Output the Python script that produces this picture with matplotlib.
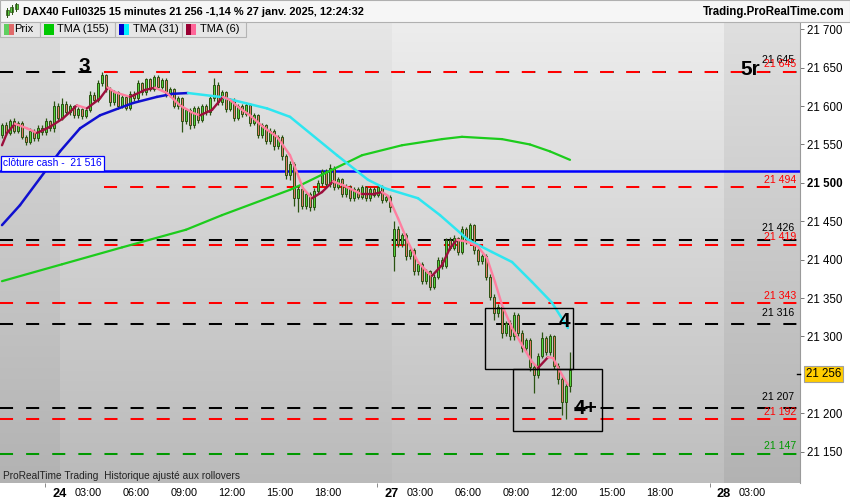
import numpy as np
import matplotlib
matplotlib.use('Agg')
import matplotlib.pyplot as plt
from matplotlib.collections import LineCollection
from matplotlib.patches import Rectangle

# ---------------- data (15 min bars, 23 janv 18:15 -> 27 janv 12:15) ----------------
opens = [21562, 21575, 21565, 21580, 21568, 21578, 21560, 21553, 21568, 21558,
         21572, 21566, 21580, 21572, 21600, 21585, 21603, 21592, 21600, 21588,
         21596, 21587, 21595, 21615, 21608, 21630, 21640, 21622, 21605, 21618,
         21600, 21612, 21598, 21616, 21610, 21630, 21618, 21635, 21622, 21638,
         21625, 21634, 21615, 21622, 21600, 21610, 21580, 21595, 21575, 21598,
         21582, 21600, 21592, 21610, 21628, 21605, 21618, 21596, 21608, 21585,
         21600, 21590, 21602, 21578, 21588, 21562, 21575, 21555, 21568, 21548,
         21560, 21535, 21510, 21525, 21480, 21492, 21470, 21485, 21468, 21490,
         21500, 21515, 21498, 21520, 21495, 21505, 21485, 21495, 21480, 21492,
         21482, 21494, 21480, 21492, 21484, 21495, 21478, 21482, 21405, 21440,
         21420, 21432, 21405, 21412, 21385, 21395, 21372, 21385, 21365, 21378,
         21400, 21392, 21425, 21415, 21428, 21410, 21440, 21425, 21445, 21412,
         21398, 21405, 21378, 21352, 21330, 21338, 21305, 21318, 21300, 21328,
         21305, 21285, 21295, 21260, 21250, 21275, 21298, 21280, 21300, 21262,
         21245, 21215, 21235]
closes = [21575, 21565, 21580, 21568, 21578, 21560, 21553, 21568, 21558, 21572,
          21566, 21580, 21572, 21600, 21585, 21603, 21592, 21600, 21588, 21596,
          21587, 21595, 21615, 21608, 21630, 21640, 21622, 21605, 21618, 21600,
          21612, 21598, 21616, 21610, 21630, 21618, 21635, 21622, 21638, 21625,
          21634, 21615, 21622, 21600, 21610, 21580, 21595, 21575, 21598, 21582,
          21600, 21592, 21610, 21628, 21605, 21618, 21596, 21608, 21585, 21600,
          21590, 21602, 21578, 21588, 21562, 21575, 21555, 21568, 21548, 21560,
          21535, 21510, 21525, 21480, 21492, 21470, 21485, 21468, 21490, 21500,
          21515, 21498, 21520, 21495, 21505, 21485, 21495, 21480, 21492, 21482,
          21494, 21480, 21492, 21484, 21495, 21478, 21482, 21468, 21440, 21420,
          21432, 21405, 21412, 21385, 21395, 21372, 21385, 21365, 21378, 21400,
          21392, 21425, 21415, 21428, 21410, 21440, 21425, 21445, 21412, 21398,
          21405, 21378, 21352, 21330, 21338, 21305, 21318, 21300, 21328, 21305,
          21285, 21295, 21260, 21250, 21275, 21298, 21280, 21300, 21262, 21245,
          21215, 21235, 21256]
highs = [21578, 21579, 21583, 21584, 21581, 21580, 21563, 21571, 21570, 21575,
         21575, 21584, 21582, 21606, 21604, 21610, 21606, 21603, 21602, 21599,
         21598, 21598, 21620, 21618, 21634, 21645, 21642, 21625, 21621, 21620,
         21615, 21614, 21619, 21619, 21634, 21632, 21637, 21637, 21640, 21640,
         21636, 21636, 21625, 21624, 21613, 21612, 21598, 21597, 21600, 21600,
         21603, 21603, 21613, 21636, 21632, 21621, 21620, 21611, 21610, 21603,
         21603, 21605, 21604, 21591, 21590, 21578, 21577, 21571, 21570, 21563,
         21563, 21538, 21528, 21527, 21496, 21495, 21488, 21488, 21493, 21504,
         21518, 21518, 21524, 21522, 21508, 21507, 21498, 21497, 21495, 21494,
         21497, 21496, 21494, 21494, 21497, 21497, 21485, 21484, 21450, 21444,
         21435, 21435, 21416, 21415, 21398, 21397, 21388, 21387, 21381, 21403,
         21404, 21428, 21430, 21432, 21430, 21444, 21443, 21448, 21447, 21415,
         21408, 21408, 21381, 21355, 21342, 21340, 21320, 21321, 21332, 21330,
         21308, 21298, 21298, 21264, 21278, 21306, 21300, 21303, 21302, 21265,
         21248, 21240, 21280]
lows = [21558, 21562, 21562, 21565, 21565, 21557, 21549, 21550, 21555, 21555,
        21562, 21563, 21568, 21566, 21582, 21582, 21588, 21589, 21584, 21585,
        21583, 21584, 21592, 21604, 21605, 21626, 21618, 21600, 21602, 21596,
        21597, 21595, 21595, 21606, 21607, 21615, 21615, 21619, 21619, 21622,
        21622, 21612, 21612, 21597, 21596, 21566, 21577, 21570, 21572, 21578,
        21579, 21589, 21589, 21607, 21602, 21602, 21592, 21593, 21581, 21582,
        21586, 21587, 21574, 21575, 21558, 21558, 21550, 21551, 21543, 21544,
        21530, 21505, 21504, 21470, 21462, 21466, 21466, 21463, 21465, 21486,
        21496, 21494, 21494, 21491, 21492, 21481, 21482, 21476, 21477, 21479,
        21479, 21477, 21477, 21481, 21481, 21474, 21475, 21462, 21385, 21416,
        21416, 21400, 21401, 21380, 21380, 21368, 21368, 21360, 21362, 21375,
        21388, 21389, 21412, 21412, 21406, 21407, 21420, 21422, 21408, 21393,
        21394, 21374, 21347, 21322, 21325, 21298, 21300, 21295, 21296, 21300,
        21280, 21280, 21255, 21226, 21246, 21272, 21276, 21276, 21258, 21238,
        21198, 21193, 21228]

# moving averages (bar position, value)
tma155_pos = [0, 15, 30, 46, 55, 72, 75, 90, 100, 110, 115, 125, 132, 137, 142]
tma155_val = [21372, 21394, 21416, 21439, 21458, 21491, 21498, 21536, 21549,
              21557, 21560, 21557, 21550, 21541, 21530]
tma31_pos = [0, 4.5, 9.5, 14.5, 19.5, 24.5, 32.75, 38.75, 42.75, 46.5, 54.5,
             66.25, 72, 83.75, 91.5, 95.75, 104, 109.5, 116.5, 122.5, 127.5,
             132.5, 137.5, 141.5]
tma31_val = [21445, 21471, 21506, 21541, 21571, 21588, 21604, 21612, 21616, 21617,
             21612, 21597, 21586, 21536, 21504, 21493, 21480, 21458, 21426, 21410,
             21397, 21371, 21344, 21311]
tma6_pos = [0, 1.25, 3.25, 6.25, 8.75, 12, 15.25, 18.75, 21.25, 24.5, 26.5, 28.25,
            32, 35.75, 38.25, 41.25, 44.5, 47.75, 49.5, 52.5, 55.25, 57, 59.5, 62,
            65.25, 68.75, 72, 73.25, 75.25, 77.5, 80, 82.75, 85.25, 90, 92.5, 95,
            96.5, 99, 101.5, 104, 106.5, 107.5, 110, 112, 113.75, 116.5, 119,
            121.25, 123.25, 125, 127.5, 130, 132.5, 134, 136.5, 137.75, 140, 141.5]
tma6_val = [21549, 21565, 21577, 21571, 21565, 21573, 21584, 21601, 21597, 21610,
            21624, 21618, 21612, 21621, 21624, 21617, 21601, 21591, 21588, 21595,
            21612, 21608, 21597, 21588, 21573, 21560, 21536, 21520, 21493, 21480,
            21488, 21502, 21497, 21485, 21485, 21488, 21483, 21454, 21423, 21397,
            21383, 21379, 21393, 21415, 21426, 21423, 21417, 21402, 21371, 21341,
            21311, 21289, 21267, 21259, 21273, 21272, 21250, 21237]

# horizontal levels
red_levels = [21645, 21494, 21419, 21343, 21192]
red_start = [25.5, 25.5, -0.5, -0.5, -0.5]
black_levels = [21645, 21426, 21316, 21207]
green_levels = [21147]
cash_close = 21516
last_price = 21256

# boxes (bar from, bar to, price low, price high)
box4 = (120.75, 142.75, 21257, 21337)
box4p = (127.75, 150.0, 21177, 21257)

tick_pos = [14.5, 21.5, 33.5, 45.5, 57.5, 69.5, 81.5, 97.5, 104.5, 116.5, 128.5,
            140.5, 152.5, 164.5, 180.5, 187.5]
tick_lab = ['24', '03:00', '06:00', '09:00', '12:00', '15:00', '18:00', '27', '03:00',
            '06:00', '09:00', '12:00', '15:00', '18:00', '28', '03:00']
y_ticks = [21150, 21200, 21300, 21350, 21400, 21450, 21500, 21550, 21600,
           21650, 21700]

# ---------------- plot ----------------
plt.rcParams['font.family'] = ['Liberation Sans', 'DejaVu Sans']
plt.rcParams['lines.scale_dashes'] = False

W, H = 850, 500
fig = plt.figure(figsize=(8.5, 5), dpi=100)
fig.patch.set_facecolor('white')
ax = fig.add_axes([0, 17 / H, 800 / W, 461 / H])
XMIN, XMAX = -0.5, 199.5
YMIN, YMAX = 21109.2, 21709.5
ax.set_xlim(XMIN, XMAX)
ax.set_ylim(YMIN, YMAX)


def x2b(px):
    return px / 4.0 - 0.5


def p2y(py):
    return 21700 - (py - 29.3) / 0.768


# background: vertical gradient, one shade per trading day
bg = np.zeros((461, 800, 3))
t = np.linspace(0, 1, 461)[:, None]
for (a, b, top, bot) in [(0, 60, 0.865, 0.70), (60, 392, 0.905, 0.73),
                         (392, 724, 0.93, 0.745), (724, 800, 0.875, 0.70)]:
    col = top + (bot - top) * t
    bg[:, a:b, :] = np.repeat(col, b - a, axis=1)[:, :, None]
ax.imshow(bg, extent=[XMIN, XMAX, YMIN, YMAX], aspect='auto', zorder=0,
          interpolation='nearest')

# horizontal levels
dash = (9.4, 9.4)
for lv in black_levels:
    ax.plot([XMIN, XMAX], [lv, lv], color='black', lw=1.45, dashes=dash, zorder=1)
for lv, st in zip(red_levels, red_start):
    ax.plot([st, XMAX], [lv, lv], color='#ff0000', lw=1.45, dashes=dash, zorder=1.1)
for lv in green_levels:
    ax.plot([XMIN, XMAX], [lv, lv], color='#009900', lw=1.45, dashes=dash, zorder=1)
ax.axhline(cash_close, color='#0000ff', lw=1.8, zorder=2)

# candles
idx = np.arange(len(closes))
o = np.array(opens, float)
c = np.array(closes, float)
hi = np.array(highs, float)
lo = np.array(lows, float)
up = c >= o
edge = '#2b5312'
ax.vlines(idx, lo, hi, color=edge, lw=0.9, zorder=3)
bot = np.minimum(o, c)
hgt = np.maximum(np.abs(c - o), 1.5)
ax.bar(idx[up], hgt[up], bottom=bot[up], width=0.7, color='#55d23c',
       edgecolor=edge, linewidth=0.7, zorder=4)
ax.bar(idx[~up], hgt[~up], bottom=bot[~up], width=0.7, color='#e27a68',
       edgecolor=edge, linewidth=0.7, zorder=4)


# moving averages
def ma_line(pos, val, c_up, c_down, lw):
    pts = np.column_stack([pos, val])
    segs = np.stack([pts[:-1], pts[1:]], axis=1)
    cols = [c_up if b >= a else c_down for a, b in zip(val[:-1], val[1:])]
    return LineCollection(segs, colors=cols, linewidths=lw, capstyle='round',
                          joinstyle='round', zorder=5)


ax.add_collection(ma_line(tma155_pos, tma155_val, '#1ccc1c', '#1ccc1c', 1.6))
ax.add_collection(ma_line(tma31_pos, tma31_val, '#1010d0', '#2ee6f0', 1.8))
ax.add_collection(ma_line(tma6_pos, tma6_val, '#9c0f3c', '#ff7fa0', 1.7))

# boxes
for (x0, x1, y0, y1) in (box4, box4p):
    ax.add_patch(Rectangle((x0, y0), x1 - x0, y1 - y0, fill=False, ec='black',
                           lw=1.0, zorder=6))

# wave labels
big = dict(fontsize=15, fontweight='bold', color='black', ha='center',
           va='center', zorder=7)
ax.text(x2b(84), p2y(67), '3', **big)
ax.text(x2b(750), p2y(70), '5r', **big)
ax.text(x2b(564), p2y(322), '4', **big)
ax.text(x2b(586), p2y(409), '4+', **big)

# level labels at right
lab_x = x2b(796)
for lv in black_levels:
    ax.annotate(f'{lv // 1000} {lv % 1000:03d}', (lab_x, lv), xytext=(-1, 4.5),
                textcoords='offset points', ha='right', va='bottom', fontsize=7.6,
                color='black', zorder=7)
for lv in red_levels:
    ax.annotate(f'{lv // 1000} {lv % 1000:03d}', (lab_x, lv), xytext=(0, 2),
                textcoords='offset points', ha='right', va='bottom', fontsize=7.6,
                color='#ff0000', zorder=7.1)
for lv in green_levels:
    ax.annotate(f'{lv // 1000} {lv % 1000:03d}', (lab_x, lv), xytext=(0, 2),
                textcoords='offset points', ha='right', va='bottom', fontsize=7.6,
                color='#009900', zorder=7)

# cash close label
ax.text(x2b(3), p2y(163.5), 'clôture cash -  21 516', fontsize=7.4, color='#0000ff',
        ha='left', va='center', zorder=8,
        bbox=dict(boxstyle='square,pad=0.22', fc='white', ec='#0000ff', lw=0.9))

# bottom note
ax.text(x2b(3), p2y(476), 'ProRealTime Trading  Historique ajusté aux rollovers',
        fontsize=7.3, color='#222222', ha='left', va='center', zorder=8)

# axes styling
for s in ['top', 'left', 'bottom']:
    ax.spines[s].set_visible(False)
ax.spines['right'].set_color('#9a9a9a')
ax.spines['right'].set_linewidth(0.8)
ax.yaxis.tick_right()
ax.set_yticks(y_ticks)
ax.set_yticklabels([f'{v // 1000} {v % 1000:03d}' for v in y_ticks])
ax.tick_params(axis='y', length=3, width=0.7, color='#777777', pad=2,
               labelsize=8.3)
for lbl in ax.get_yticklabels():
    if lbl.get_text() == '21 500':
        lbl.set_fontweight('bold')
ax.set_xticks(tick_pos)
ax.set_xticklabels(tick_lab)
ax.tick_params(axis='x', length=0, pad=3.5, labelsize=7.8)
for lbl in ax.get_xticklabels():
    if ':' not in lbl.get_text():
        lbl.set_fontweight('bold')
        lbl.set_fontsize(9.2)
ax.set_xticks([10.75, 93.75, 177], minor=True)
ax.tick_params(axis='x', which='minor', length=3, width=0.7, color='#888888')

# last price marker
fig.text(806 / W, 1 - 374 / H, '21 256', fontsize=8.3, ha='left', va='center',
         bbox=dict(boxstyle='square,pad=0.18', fc='#ffcc00', ec='#a0a0a0', lw=0.8))
fig.add_artist(plt.Line2D([797 / W, 800 / W], [1 - 374 / H, 1 - 374 / H],
                          color='black', lw=1.0))

# title bar
fig.add_artist(Rectangle((0, 1 - 22 / H), 1, 22 / H, transform=fig.transFigure,
                         fc='#f6f6f6', ec='#b0b0b0', lw=0.8))
fig.text(23 / W, 1 - 12 / H, 'DAX40 Full0325 15 minutes 21 256 -1,14 % 27 janv. 2025, 12:24:32',
         fontsize=7.9, fontweight='bold', ha='left', va='center')
fig.text(845 / W, 1 - 12 / H, 'Trading.ProRealTime.com', fontsize=8.3,
         fontweight='bold', ha='right', va='center')
# tiny candle icon
for (cx, y0, y1, w0, w1) in [(7, 8, 17, 10, 15), (11.5, 5, 14, 7, 12), (16, 3, 11, 4, 9)]:
    fig.add_artist(plt.Line2D([cx / W, cx / W], [1 - y1 / H, 1 - y0 / H],
                              color='#2b5312', lw=0.7))
    fig.add_artist(Rectangle(((cx - 1.5) / W, 1 - w1 / H), 3 / W, (w1 - w0) / H,
                             transform=fig.transFigure, fc='#55d23c', ec='#2b5312', lw=0.5))

# legend row
leg = [(0, 40, ['#5fcf5f', '#e06a6a'], 'Prix', 14),
       (40, 115, ['#00c800', '#00c800'], 'TMA (155)', 57),
       (115, 182, ['#0000cc', '#00f0ff'], 'TMA (31)', 133),
       (182, 246, ['#990033', '#ff6699'], 'TMA (6)', 200)]
for (a, b, cols, txt, tx) in leg:
    fig.add_artist(Rectangle((a / W, 1 - 37 / H), (b - a) / W, 15 / H,
                             transform=fig.transFigure, fc='#e6e6e6', ec='#b4b4b4', lw=0.8))
    ix = a + 4
    fig.add_artist(Rectangle((ix / W, 1 - 34.5 / H), 5 / W, 10 / H,
                             transform=fig.transFigure, fc=cols[0], ec='none'))
    fig.add_artist(Rectangle(((ix + 5) / W, 1 - 34.5 / H), 5 / W, 10 / H,
                             transform=fig.transFigure, fc=cols[1], ec='none'))
    fig.text(tx / W, 1 - 29.5 / H, txt, fontsize=8.0, ha='left', va='center')

fig.savefig('out.png', dpi=100)
